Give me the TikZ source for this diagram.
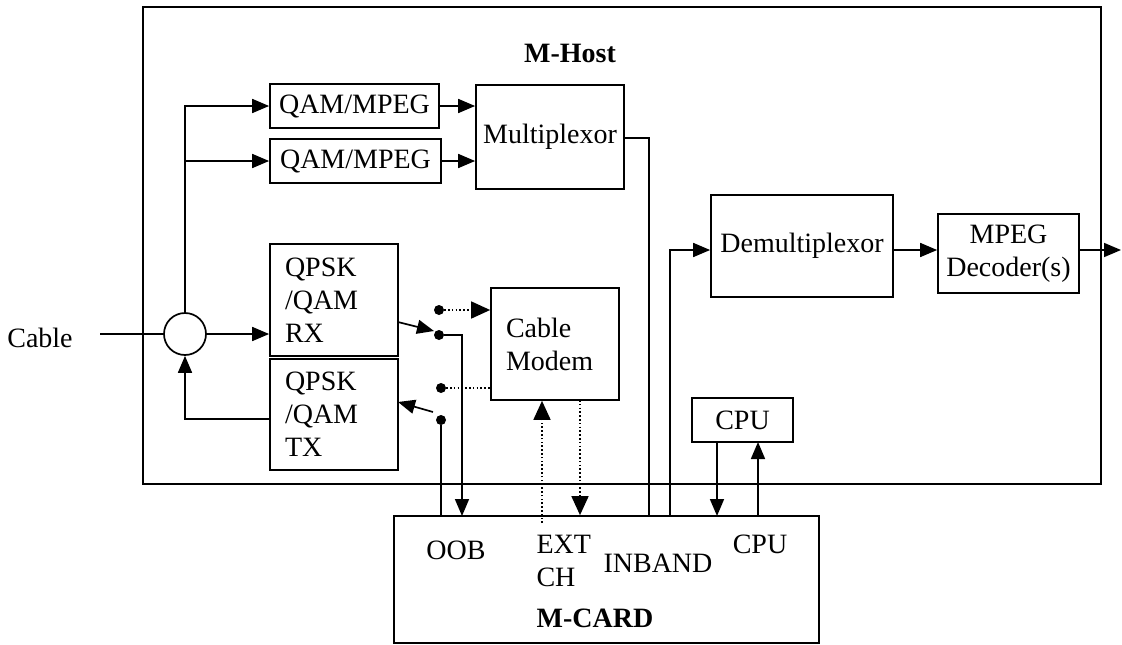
\documentclass[tikz,border=0pt]{standalone}
\usepackage{fontspec}
\setmainfont{Liberation Serif}
\usetikzlibrary{arrows.meta,calc}
\begin{document}
\begin{tikzpicture}[x=1pt,y=-1pt,
  every node/.style={font=\fontsize{28}{33}\selectfont},
  line/.style={line width=1.7pt},
  arr/.style={line width=1.7pt,-{Triangle[length=17pt,width=14pt]}},
  dotl/.style={line width=1.6pt,dash pattern=on 1.6pt off 2.2pt},
  dotarr/.style={dotl,-{Triangle[length=19pt,width=17pt]}},
  blk/.style={draw,line width=1.7pt,inner sep=0pt,align=center},
  lblk/.style={draw,line width=1.7pt,inner ysep=0pt,inner xsep=15pt,align=left,text width=98pt},
  sdot/.style={circle,fill,inner sep=0pt,minimum size=10pt}]
\useasboundingbox (0,0) rectangle (1122,645);
% containers
\node[blk,minimum width=958pt,minimum height=477pt] (mhost) at (622,245.5) {};
\node[font=\fontsize{28}{33}\selectfont\bfseries] (mhostlbl) at (570,53) {M-Host};
\node[blk,minimum width=425pt,minimum height=127pt] (mcard) at (606.5,579.5) {};
% blocks
\node[blk,minimum width=169pt,minimum height=44pt] (qam1) at (354.5,106) {QAM/MPEG};
\node[blk,minimum width=171pt,minimum height=44pt] (qam2) at (355.5,161) {QAM/MPEG};
\node[blk,minimum width=148pt,minimum height=104pt] (mux) at (550,137) {Multiplexor};
\node[blk,minimum width=182pt,minimum height=102pt] (demux) at (802,246) {Demultiplexor};
\node[blk,minimum width=141pt,minimum height=79pt] (dec) at (1008.5,253.5) {MPEG\\Decoder(s)};
\node[lblk,minimum height=112pt] (rx) at (334,300) {QPSK\\/QAM\\RX};
\node[lblk,minimum height=111pt] (tx) at (334,414.5) {QPSK\\/QAM\\TX};
\node[lblk,minimum height=112pt] (cm) at (555,344) {Cable\\Modem};
\node[blk,minimum width=101pt,minimum height=44pt] (cpu) at (742.5,420) {CPU};
\node[draw,circle,line width=1.7pt,minimum size=42pt,inner sep=0pt] (split) at (185,334) {};
% texts
\node (cable) at (40,338) {Cable};
\node (oob) at (456,550) {OOB};
\node[anchor=west,align=left] (ext) at (533,561) {EXT\\CH};
\node (inband) at (658,563) {INBAND};
\node (cpulbl) at (760,544) {CPU};
\node[font=\fontsize{28}{33}\selectfont\bfseries] (mcardlbl) at (595,618) {M-CARD};
% coordinates
\coordinate (cin) at (100,334);
\coordinate (s1) at (439,310);
\coordinate (s2) at (439,335);
\coordinate (s3) at (441,388);
\coordinate (s4) at (441,420);
\coordinate (rxo) at (398,322);
\coordinate (rxt) at (434,331);
\coordinate (txo) at (433,412);
\coordinate (txt) at (398,402);
\coordinate (muxo) at (624,138);
\coordinate (bus1) at (649,138);
\coordinate (bus2) at (670,250);
\coordinate (extup) at (542,523);
\coordinate (extdn) at (580,400);
\coordinate (out) at (1121,250);
\node[sdot] (d1) at (s1) {};
\node[sdot] (d2) at (s2) {};
\node[sdot] (d3) at (s3) {};
\node[sdot] (d4) at (s4) {};
% connectors
\draw[line] (cin) -- (split.west);
\draw[arr] (split.north) |- (qam1.west);
\draw[arr] (split.north |- qam2.west) -- (qam2.west);
\draw[arr] (split.east) -- (rx.west |- split.east);
\draw[arr] (tx.west |- 0,419) -| (split.south);
\draw[arr] (qam1.east) -- (mux.west |- qam1.east);
\draw[arr] (qam2.east) -- (mux.west |- qam2.east);
\draw[line] (muxo) -- (bus1) -- (bus1 |- mcard.north);
\draw[arr] (bus2 |- mcard.north) -- (bus2) -- (demux.west |- bus2);
\draw[arr] (demux.east |- bus2) -- (dec.west |- bus2);
\draw[arr] (dec.east |- bus2) -- (out);
\draw[arr] (rxo) -- (rxt);
\draw[arr] (txo) -- (txt);
\draw[dotarr] (d1) -- (cm.west |- s1);
\draw[dotl] (d3) -- (cm.west |- s3);
\draw[arr] (d2) -| (462,516);
\draw[line] (d4) -- (s4 |- mcard.north);
\draw[dotarr] (extup) -- (extup |- cm.south);
\draw[dotarr] (extdn) -- (extdn |- mcard.north);
\draw[arr] (717,442) -- (717,516);
\draw[arr] (758,516) -- (758,442);
\end{tikzpicture}
\end{document}
